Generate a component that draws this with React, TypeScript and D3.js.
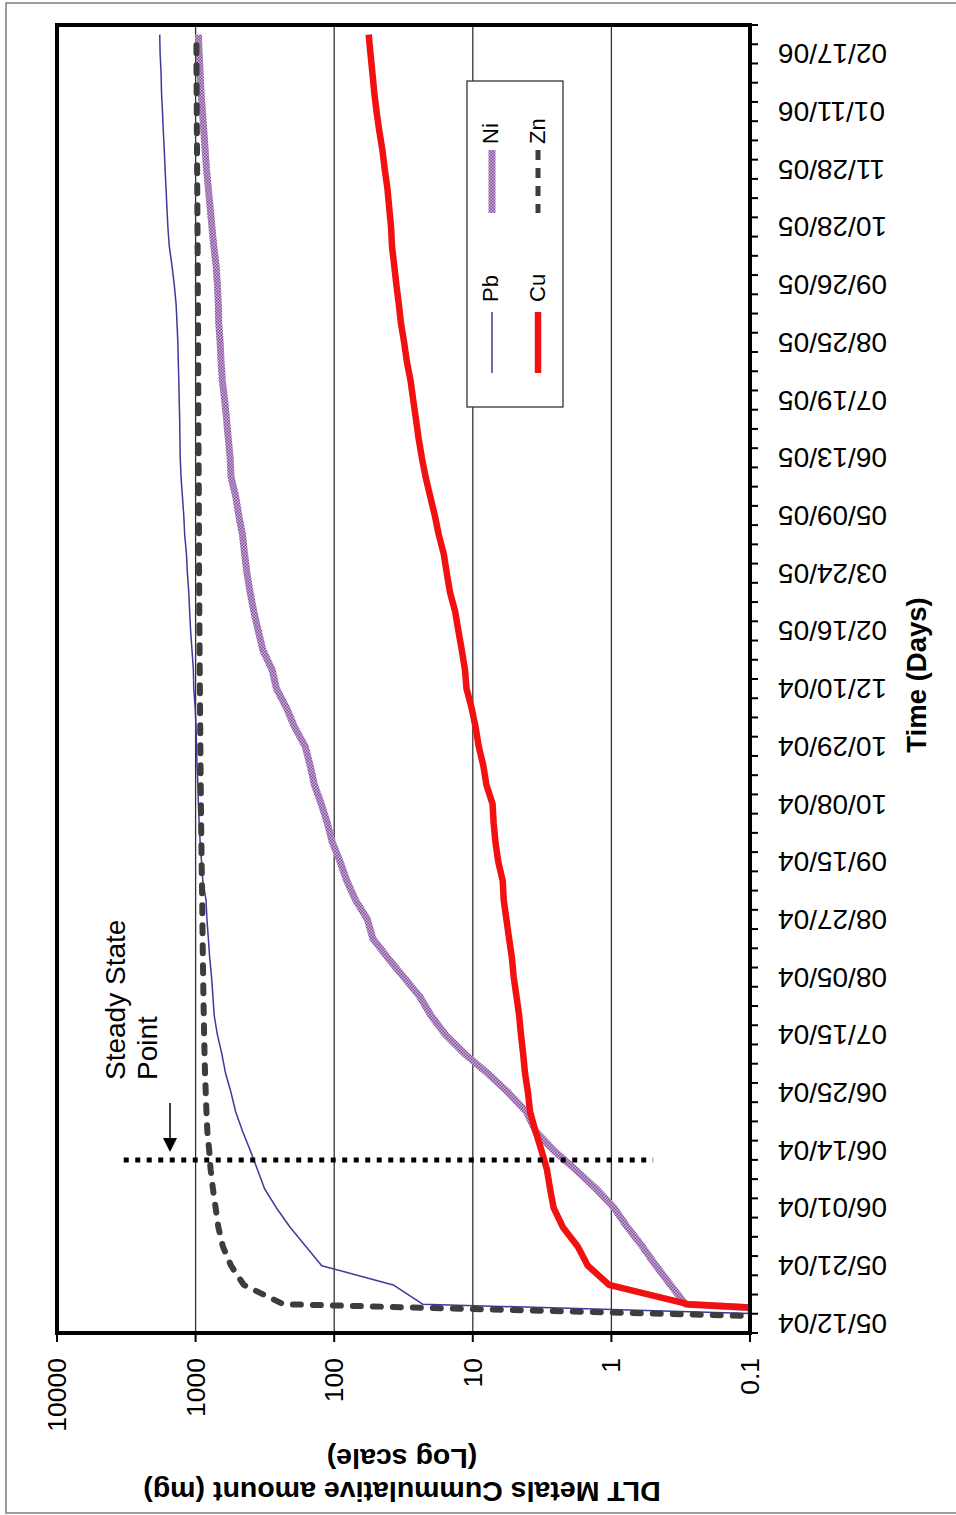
import React from "react";
import * as d3 from "d3";

const W = 956;
const H = 1515;
const FONT = "'Liberation Sans', Arial, Helvetica, sans-serif";

// Sampling dates shown on the time axis (every third sample is labelled)
const dateLabels = [
  "05/12/04", "05/21/04", "06/01/04", "06/14/04", "06/25/04", "07/15/04",
  "08/05/04", "08/27/04", "09/15/04", "10/08/04", "10/29/04", "12/10/04",
  "02/16/05", "03/24/05", "05/09/05", "06/13/05", "07/19/05", "08/25/05",
  "09/26/05", "10/28/05", "11/28/05", "01/11/06", "02/17/06",
];
const LABEL_EVERY = 3;

// Cumulative amounts (mg) per sample
const pbValues = [
  0.0003, 23, 37.5, 123, 160, 208, 261, 318, 358, 404, 459, 514, 555, 608, 646, 696, 734,
  750, 767, 791, 809, 828, 841, 887, 906, 927, 942, 955, 963, 977, 985, 993, 1007, 1031,
  1038, 1062, 1086, 1104, 1120, 1146, 1164, 1199, 1217, 1245, 1274, 1291, 1297, 1303,
  1313, 1322, 1333, 1343, 1362, 1383, 1426, 1481, 1549, 1585, 1610, 1634, 1660, 1683,
  1710, 1734, 1762, 1775, 1803, 1815,
];
const niValues = [
  0.0008, 0.292, 0.375, 0.477, 0.598, 0.767, 0.955, 1.29, 1.82, 2.61, 3.53, 4.1, 5.55,
  7.8, 11.4, 15.7, 20, 24.2, 31.5, 41, 52.6, 57.6, 70, 81, 90.6, 103, 112, 124, 139, 149,
  162, 193, 221, 261, 281, 327, 353, 380, 404, 426, 443, 459, 488, 514, 555, 563, 581,
  598, 617, 641, 655, 665, 681, 686, 696, 712, 739, 762, 785, 809, 834, 853, 873, 893,
  914, 927, 942, 955,
];
const cuValues = [
  0.0008, 0.28, 1.04, 1.48, 1.75, 2.24, 2.61, 2.77, 2.92, 3.2, 3.53, 3.86, 4.0, 4.2,
  4.33, 4.49, 4.63, 4.84, 5.07, 5.22, 5.47, 5.72, 5.98, 6.08, 6.55, 6.86, 7.07, 7.2,
  7.98, 8.4, 9.07, 9.55, 10.2, 11.1, 11.4, 12, 12.7, 13.4, 14.6, 15.4, 16.2, 17.6, 18.8,
  20.3, 21.9, 23.3, 24.6, 25.7, 26.9, 28.1, 29.9, 31.3, 33, 34.2, 35.6, 36.9, 38.3,
  38.9, 40.1, 41.3, 43.2, 44.9, 47.3, 49.5, 51.4, 53, 54.7, 56.4,
];
const znValues = [
  0.0008, 233, 449, 555, 636, 685, 717, 750, 779, 798, 823, 835, 845, 855, 862, 868, 873,
  878, 882, 886, 890, 893, 896, 900, 905, 908, 912, 915, 918, 921, 924, 926, 929, 931,
  934, 936, 938, 940, 942, 944, 945, 946, 947, 948, 950, 952, 953, 955, 956, 957, 958,
  959, 960, 962, 964, 965, 967, 969, 971, 973, 975, 977, 979, 981, 983, 985, 986, 988,
];

const valueTicks = [0.1, 1, 10, 100, 1000, 10000];

// Steady state marker: boundary below this sample, spanning these amounts
const steadyStateSample = 9;
const steadyStateSpan = [3300, 0.5];

const plot = { left: 57, right: 750, top: 25, bottom: 1333 };

type Series = {
  name: string;
  values: number[];
  stroke: string;
  width: number;
  dash?: string;
  cap?: "round" | "butt";
};

const series: Series[] = [
  { name: "Pb", values: pbValues, stroke: "#3b3b9c", width: 1.5 },
  { name: "Ni", values: niValues, stroke: "url(#niTexture)", width: 7 },
  { name: "Cu", values: cuValues, stroke: "#f21010", width: 6.5 },
  { name: "Zn", values: znValues, stroke: "#3d3d3d", width: 6, dash: "8 12", cap: "round" },
];

export default function App() {
  const n = pbValues.length;
  const x = d3.scaleLog().domain([0.1, 10000]).range([plot.right, plot.left]);
  const y = d3
    .scaleBand<number>()
    .domain(d3.range(n))
    .range([plot.bottom, plot.top])
    .paddingInner(0)
    .paddingOuter(0);
  const yc = (i: number) => (y(i) as number) + y.bandwidth() / 2;
  const line = d3
    .line<number>()
    .x((d) => x(d))
    .y((_, i) => yc(i));

  const boundaries = [plot.bottom, ...d3.range(n).map((i) => y(i) as number)];
  const steadyY = (y(steadyStateSample) as number) + y.bandwidth();

  // legend layout (vertical chart, entries run top to bottom)
  const legend = {
    x: 467, y: 81, w: 96, h: 326,
    entries: [
      { s: series[0], lx: 492, textX: 498, lineY: [312, 373], textY: 302 },
      { s: series[1], lx: 492, textX: 498, lineY: [150, 213], textY: 144 },
      { s: series[2], lx: 538, textX: 545, lineY: [312, 373], textY: 302 },
      { s: series[3], lx: 538, textX: 545, lineY: [150, 213], textY: 144 },
    ],
  };

  return (
    <svg
      width={W}
      height={H}
      viewBox={`0 0 ${W} ${H}`}
      style={{ position: "absolute", left: 0, top: 0, display: "block", background: "#fff" }}
      fontFamily={FONT}
    >
      <defs>
        <pattern id="niTexture" patternUnits="userSpaceOnUse" width="3" height="3">
          <rect width="3" height="3" fill="#cfaede" />
          <rect width="1.5" height="1.5" fill="#7e5096" />
          <rect x="1.5" y="1.5" width="1.5" height="1.5" fill="#7e5096" />
        </pattern>
        <clipPath id="plotClip">
          <rect x={plot.left} y={plot.top} width={plot.right - plot.left} height={plot.bottom - plot.top} />
        </clipPath>
      </defs>

      <rect x={0} y={0} width={W} height={H} fill="#fff" />
      <rect x={6} y={3} width={970} height={1510} fill="none" stroke="#858585" strokeWidth={1.6} />

      {/* gridlines */}
      {valueTicks.slice(1, -1).map((v) => (
        <line key={`g${v}`} x1={x(v)} x2={x(v)} y1={plot.top} y2={plot.bottom} stroke="#333" strokeWidth={1.3} />
      ))}

      {/* series */}
      <g clipPath="url(#plotClip)">
        {series.map((s) => (
          <path
            key={s.name}
            d={line(s.values) as string}
            fill="none"
            stroke={s.stroke}
            strokeWidth={s.width}
            strokeDasharray={s.dash}
            strokeLinecap={s.cap ?? "butt"}
            strokeLinejoin="round"
          />
        ))}
      </g>

      {/* plot frame */}
      <rect
        x={plot.left}
        y={plot.top}
        width={plot.right - plot.left}
        height={plot.bottom - plot.top}
        fill="none"
        stroke="#000"
        strokeWidth={4}
      />

      {/* value axis ticks and labels */}
      {valueTicks.map((v) => (
        <g key={`v${v}`}>
          <line x1={x(v)} x2={x(v)} y1={plot.bottom} y2={plot.bottom + 9} stroke="#000" strokeWidth={2} />
          <text
            transform={`translate(${x(v)}, 1358) rotate(-90)`}
            textAnchor="end"
            dominantBaseline="central"
            fontSize={26.5}
            fill="#000"
          >
            {String(v)}
          </text>
        </g>
      ))}

      {/* time axis ticks */}
      {boundaries.map((b, k) => (
        <line key={`t${k}`} x1={plot.right} x2={plot.right + 8} y1={b} y2={b} stroke="#000" strokeWidth={2} />
      ))}
      {dateLabels.map((lab, k) => (
        <text
          key={lab}
          transform={`translate(778, ${yc(k * LABEL_EVERY)}) rotate(180)`}
          textAnchor="end"
          dominantBaseline="central"
          fontSize={28}
          fill="#000"
        >
          {lab}
        </text>
      ))}

      {/* axis titles */}
      <text
        transform="translate(402, 1482) rotate(180)"
        textAnchor="middle"
        fontSize={28.5}
        fontWeight="bold"
        fill="#000"
      >
        DLT Metals Cummulative amount (mg)
      </text>
      <text
        transform="translate(402, 1449) rotate(180)"
        textAnchor="middle"
        fontSize={28.5}
        fontWeight="bold"
        fill="#000"
      >
        (Log scale)
      </text>
      <text
        transform="translate(926, 675) rotate(-90)"
        textAnchor="middle"
        fontSize={27.5}
        fontWeight="bold"
        fill="#000"
      >
        Time (Days)
      </text>

      {/* legend */}
      <rect x={legend.x} y={legend.y} width={legend.w} height={legend.h} fill="#fff" stroke="#333" strokeWidth={1.3} />
      {legend.entries.map((e) => (
        <g key={`l${e.s.name}`}>
          <line
            x1={e.lx}
            x2={e.lx}
            y1={e.lineY[0]}
            y2={e.lineY[1]}
            stroke={e.s.stroke}
            strokeWidth={e.s.name === "Zn" ? 5 : e.s.width}
            strokeDasharray={e.s.name === "Zn" ? "10 8" : undefined}
          />
          <text
            transform={`translate(${e.textX}, ${e.textY}) rotate(-90)`}
            textAnchor="start"
            fontSize={22}
            fill="#000"
          >
            {e.s.name}
          </text>
        </g>
      ))}

      {/* steady state annotation */}
      <line
        x1={x(steadyStateSpan[0])}
        x2={x(steadyStateSpan[1])}
        y1={steadyY}
        y2={steadyY}
        stroke="#000"
        strokeWidth={5}
        strokeDasharray="5 6.5"
      />
      <line x1={170} x2={170} y1={1103} y2={1140} stroke="#000" strokeWidth={1.5} />
      <path d="M163,1138 L177,1138 L170,1152 Z" fill="#000" />
      <text transform="translate(125, 1080) rotate(-90)" textAnchor="start" fontSize={28} fill="#000">
        Steady State
      </text>
      <text transform="translate(157, 1080) rotate(-90)" textAnchor="start" fontSize={28} fill="#000">
        Point
      </text>
    </svg>
  );
}
